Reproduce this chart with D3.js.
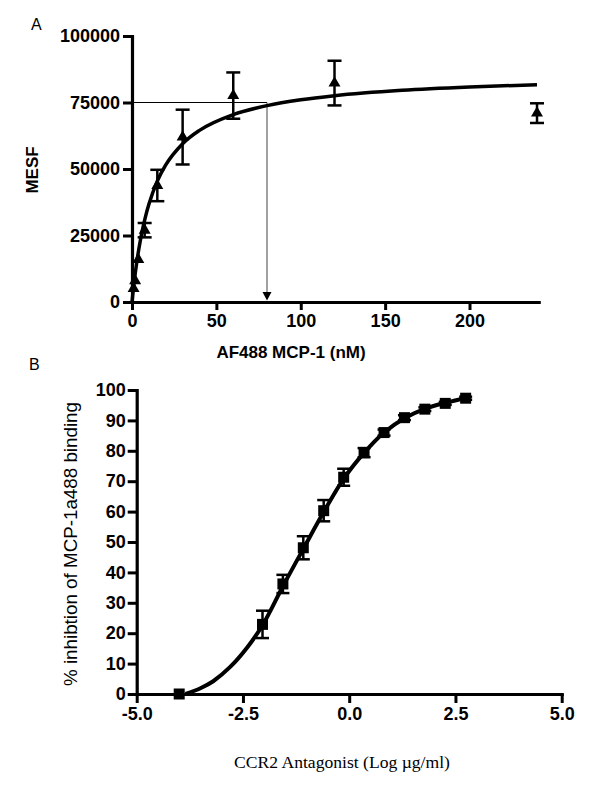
<!DOCTYPE html>
<html><head><meta charset="utf-8">
<script src="https://cdn.jsdelivr.net/npm/d3@7"></script>
<style>body{margin:0;background:#fff}svg{display:block}</style>
</head><body><svg id="c" width="600" height="800"></svg>
<script>
// ---------- Panel A data ----------
const aConc = [0.9375, 1.875, 3.75, 7.5, 15, 30, 60, 120, 240];
const aMESF = [5100, 8000, 16000, 27000, 43800, 62000, 77600, 82300, 71000];
const aErr  = [0, 0, 0, 2700, 5900, 10300, 8700, 8400, 3700];
const aFitX = [0, 1, 2, 4, 6, 8, 10, 15, 20, 30, 40, 60, 80, 100, 120, 160, 200, 240];
const aFitY = [0, 5950, 11140, 19730, 26550, 32110, 36720, 45420, 51520, 59520, 64520, 70450, 73840, 76040, 77580, 79590, 80840, 81710];
const aXTicks = [0, 50, 100, 150, 200];
const aYTicks = [0, 25000, 50000, 75000, 100000];
const aRefX = 80, aRefY = 75000;
// ---------- Panel B data ----------
const bLogConc = [-4.0, -2.04, -1.56, -1.08, -0.60, -0.13, 0.35, 0.82, 1.30, 1.78, 2.26, 2.74];
const bInhib   = [0, 22.9, 36.2, 48.1, 60.3, 71.3, 79.4, 86.0, 90.9, 93.7, 95.6, 97.3];
const bErr     = [0, 4.5, 3.0, 3.8, 3.5, 2.8, 1.5, 1.0, 0.8, 0.6, 0.5, 0.5];
const bFitX = [-3.85, -3.5, -3.2, -2.8, -2.4, -2.04, -1.55, -1.07, -0.59, -0.12, 0.35, 0.82, 1.31, 1.78, 2.27, 2.74];
const bFitY = [0, 1.9, 4.2, 8.9, 15.3, 22.6, 35.7, 48.0, 60.1, 71.0, 79.3, 86.0, 90.8, 93.8, 95.8, 97.3];
const bXTicks = [-5, -2.5, 0, 2.5, 5];
const bYTicks = [0, 10, 20, 30, 40, 50, 60, 70, 80, 90, 100];

const svg = d3.select("#c");
const SANS = "Arial, 'Liberation Sans', Helvetica, sans-serif";
const SERIF = "'Times New Roman', 'Liberation Serif', serif";

function styleAxis(g, fs) {
  g.select(".domain").attr("stroke", "#000").attr("stroke-width", 3.2).attr("stroke-linecap", "square");
  g.selectAll(".tick line").attr("stroke", "#000").attr("stroke-width", 3);
  g.selectAll(".tick text").attr("fill", "#000").attr("font-family", SANS)
    .attr("font-weight", "bold").attr("font-size", fs);
}

// ================= Panel A =================
const xA = d3.scaleLinear().domain([0, 241]).range([132, 538.7]);
const yA = d3.scaleLinear().domain([0, 100000]).range([302, 36]);

svg.append("text").attr("x", 31).attr("y", 30).text("A")
  .attr("font-family", SANS).attr("font-size", 16);

const gAx = svg.append("g").attr("transform", "translate(0,302)")
  .call(d3.axisBottom(xA).tickValues(aXTicks).tickSize(8).tickSizeOuter(0).tickPadding(4).tickFormat(d3.format("d")));
styleAxis(gAx, 18);
const gAy = svg.append("g").attr("transform", "translate(132,0)")
  .call(d3.axisLeft(yA).tickValues(aYTicks).tickSize(9).tickSizeOuter(0).tickPadding(3).tickFormat(d3.format("d")));
styleAxis(gAy, 18);

svg.append("text").attr("transform", "translate(38,170) rotate(-90)").attr("text-anchor", "middle")
  .attr("font-family", SANS).attr("font-weight", "bold").attr("font-size", 17).text("MESF");
svg.append("text").attr("x", 291).attr("y", 358).attr("text-anchor", "middle")
  .attr("font-family", SANS).attr("font-weight", "bold").attr("font-size", 17).text("AF488 MCP-1 (nM)");

// reference lines
svg.append("line").attr("x1", xA(0)).attr("x2", xA(aRefX)).attr("y1", yA(aRefY)).attr("y2", yA(aRefY))
  .attr("stroke", "#000").attr("stroke-width", 1);
svg.append("line").attr("x1", xA(aRefX)).attr("x2", xA(aRefX)).attr("y1", yA(aRefY)).attr("y2", yA(0) - 8)
  .attr("stroke", "#444").attr("stroke-width", 1);
svg.append("path")
  .attr("d", `M${xA(aRefX) - 4.5},${yA(0) - 10} L${xA(aRefX) + 4.5},${yA(0) - 10} L${xA(aRefX)},${yA(0) - 1.5} Z`)
  .attr("fill", "#000");

// fit curve
const lineA = d3.line().x(d => xA(d[0])).y(d => yA(d[1])).curve(d3.curveMonotoneX);
svg.append("path").datum(aFitX.map((x, i) => [x, aFitY[i]])).attr("d", lineA)
  .attr("fill", "none").attr("stroke", "#000").attr("stroke-width", 3.5);

// error bars
const eA = svg.append("g").attr("stroke", "#000").attr("stroke-width", 2.5);
aConc.forEach((c, i) => {
  if (aErr[i] <= 0) return;
  const x = xA(c), y1 = yA(aMESF[i] + aErr[i]), y0 = yA(aMESF[i] - aErr[i]);
  eA.append("line").attr("x1", x).attr("x2", x).attr("y1", y1).attr("y2", y0);
  eA.append("line").attr("x1", x - 7).attr("x2", x + 7).attr("y1", y1).attr("y2", y1);
  eA.append("line").attr("x1", x - 7).attr("x2", x + 7).attr("y1", y0).attr("y2", y0);
});
svg.append("g").selectAll("path").data(aConc).join("path")
  .attr("transform", (c, i) => `translate(${xA(c)},${yA(aMESF[i])})`)
  .attr("d", d3.symbol(d3.symbolTriangle, 62)).attr("fill", "#000");

// ================= Panel B =================
const xB = d3.scaleLinear().domain([-5, 5]).range([136.7, 561.7]);
const yB = d3.scaleLinear().domain([0, 100]).range([694, 390]);

svg.append("text").attr("x", 29).attr("y", 370).text("B")
  .attr("font-family", SANS).attr("font-size", 16);

const gBx = svg.append("g").attr("transform", "translate(0,694)")
  .call(d3.axisBottom(xB).tickValues(bXTicks).tickSize(9).tickSizeOuter(0).tickPadding(4).tickFormat(d => d.toFixed(1)));
styleAxis(gBx, 18);
const gBy = svg.append("g").attr("transform", "translate(136.7,0)")
  .call(d3.axisLeft(yB).tickValues(bYTicks).tickSize(9).tickSizeOuter(0).tickPadding(2).tickFormat(d3.format("d")));
styleAxis(gBy, 18);

svg.append("text").attr("transform", "translate(77,544) rotate(-90)").attr("text-anchor", "middle")
  .attr("font-family", SANS).attr("font-size", 18.8).text("% inhibtion of MCP-1a488 binding");
svg.append("text").attr("x", 342).attr("y", 768).attr("text-anchor", "middle")
  .attr("font-family", SERIF).attr("font-size", 17.6).text("CCR2 Antagonist (Log µg/ml)");

const lineB = d3.line().x(d => xB(d[0])).y(d => yB(d[1])).curve(d3.curveCatmullRom.alpha(0.5));
svg.append("path").datum(bFitX.map((x, i) => [x, bFitY[i]])).attr("d", lineB)
  .attr("fill", "none").attr("stroke", "#000").attr("stroke-width", 4);

const eB = svg.append("g").attr("stroke", "#000").attr("stroke-width", 2.5);
bLogConc.forEach((c, i) => {
  if (bErr[i] <= 0) return;
  const x = xB(c), y1 = yB(bInhib[i] + bErr[i]), y0 = yB(bInhib[i] - bErr[i]);
  eB.append("line").attr("x1", x).attr("x2", x).attr("y1", y1).attr("y2", y0);
  eB.append("line").attr("x1", x - 6.5).attr("x2", x + 6.5).attr("y1", y1).attr("y2", y1);
  eB.append("line").attr("x1", x - 6.5).attr("x2", x + 6.5).attr("y1", y0).attr("y2", y0);
});
svg.append("g").selectAll("path").data(bLogConc).join("path")
  .attr("transform", (c, i) => `translate(${xB(c)},${yB(bInhib[i])})`)
  .attr("d", d3.symbol(d3.symbolSquare, 121)).attr("fill", "#000");
</script>
</body></html>
